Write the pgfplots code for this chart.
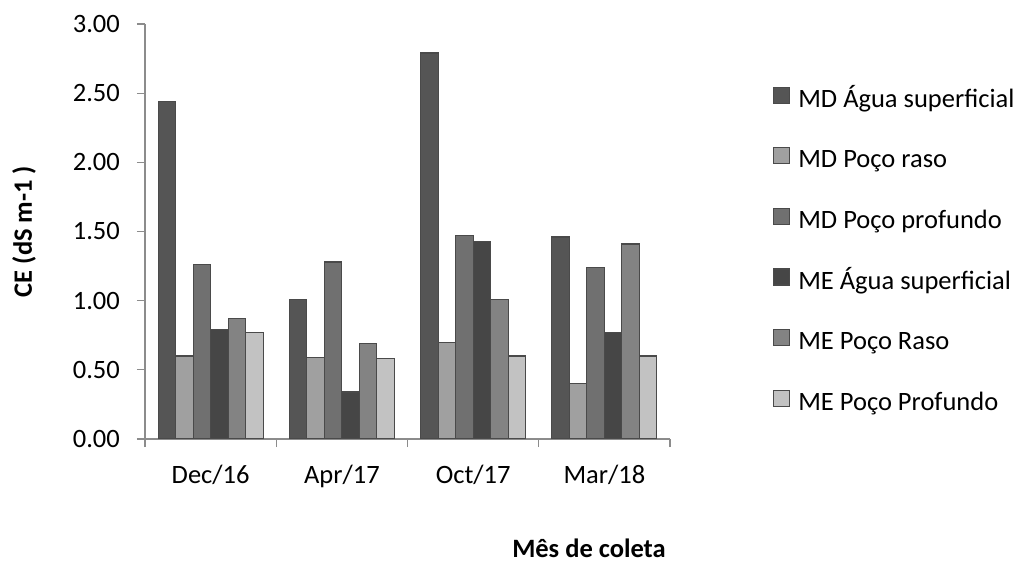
\documentclass[border=0pt]{standalone}
\usepackage{pgfplots}
\pgfplotsset{compat=1.18}
\usepackage{pgfplotstable}
\usepackage{fontspec}
\setmainfont{Carlito}
\definecolor{cA}{HTML}{555555}
\definecolor{cB}{HTML}{A0A0A0}
\definecolor{cC}{HTML}{707070}
\definecolor{cD}{HTML}{464646}
\definecolor{cE}{HTML}{838383}
\definecolor{cF}{HTML}{C2C2C2}
\definecolor{edge}{HTML}{4A4A4A}
\definecolor{axgray}{HTML}{8C8C8C}
\pgfplotstableread{
x s1 s2 s3 s4 s5 s6
0 2.44 0.60 1.26 0.79 0.87 0.77
1 1.01 0.59 1.28 0.34 0.69 0.58
2 2.79 0.70 1.47 1.43 1.01 0.60
3 1.46 0.40 1.24 0.77 1.41 0.60
}\datatable
\begin{document}
\fontsize{26.5pt}{31pt}\selectfont%
\begin{tikzpicture}
\path[use as bounding box] (0,0) rectangle (1014pt,562pt);
\begin{axis}[
  at={(145pt,123pt)}, anchor=south west,
  scale only axis, width=525pt, height=415pt,
  ybar=0pt, bar width=17.5pt,
  xmin=-0.5, xmax=3.5, ymin=0, ymax=3,
  axis lines=left,
  axis line style={-, draw=axgray, line width=1.2pt},
  tick style={draw=axgray, line width=1.2pt},
  tick align=outside,
  major tick length=8pt, minor tick length=8pt,
  xtick={0,1,2,3},
  xticklabels={Dec/16,Apr/17,Oct/17,Mar/18},
  major x tick style={draw=none},
  minor xtick={-0.5,0.5,1.5,2.5,3.5},
  ytick={0,0.5,1,1.5,2,2.5,3},
  /pgf/number format/fixed,
  /pgf/number format/fixed zerofill,
  /pgf/number format/precision=2,
  /pgf/number format/assume math mode=true,
  yticklabel style={inner sep=0pt, xshift=-17pt},
  xticklabel style={inner sep=0pt, yshift=-18pt},
  legend cell align=left,
  legend style={draw=none, fill=none, at={(1.196,0.452)}, anchor=west,
    row sep=34pt, inner sep=0pt,
    nodes={inner sep=0pt, text height=18pt, text depth=6pt},
    /tikz/every odd column/.style={column sep=8pt}},
  legend image code/.code={\draw[#1] (0pt,-2pt) rectangle (16pt,14pt);},
  every axis plot/.append style={draw=edge, line width=1.2pt},
]
\addplot[fill=cA] table[x=x,y=s1]{\datatable};
\addplot[fill=cB] table[x=x,y=s2]{\datatable};
\addplot[fill=cC] table[x=x,y=s3]{\datatable};
\addplot[fill=cD] table[x=x,y=s4]{\datatable};
\addplot[fill=cE] table[x=x,y=s5]{\datatable};
\addplot[fill=cF] table[x=x,y=s6]{\datatable};
\legend{MD Água superficial, MD Poço raso, MD Poço profundo, ME Água superficial, ME Poço Raso, ME Poço Profundo}
\end{axis}
\node[rotate=90, font=\bfseries, inner sep=0pt] at (24pt,330.5pt) {CE (dS m-1 )};
\node[font=\bfseries, anchor=base, inner sep=0pt] at (589pt,5pt) {Mês de coleta};
\end{tikzpicture}
\end{document}
